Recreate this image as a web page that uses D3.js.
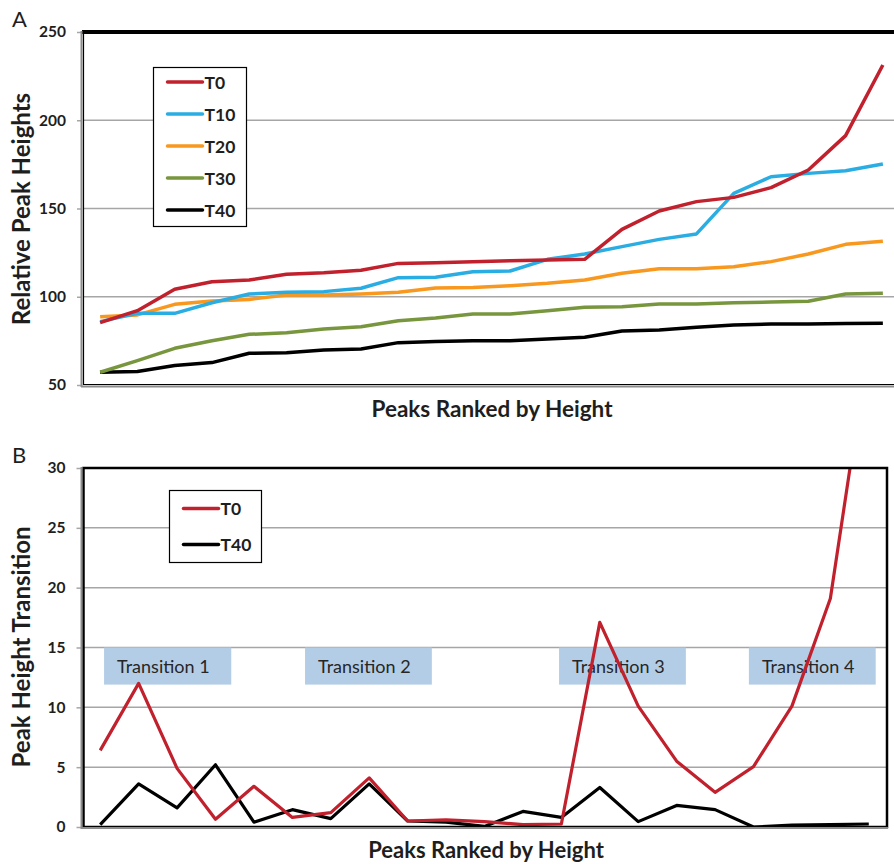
<!DOCTYPE html>
<html>
<head>
<meta charset="utf-8">
<script src="https://cdn.jsdelivr.net/npm/d3@7"></script>
<style>
  body { margin: 0; background: #fff; }
  svg { display: block; font-family: Lato, "Open Sans", sans-serif; }
</style>
</head>
<body>
<div id="chart"></div>
<script>
// panel A: relative peak heights, 22 peaks ranked by height
const ranksA = [1,2,3,4,5,6,7,8,9,10,11,12,13,14,15,16,17,18,19,20,21,22];
const t0 =  [85.3, 92.1, 104.2, 108.5, 109.5, 112.7, 113.6, 115.0, 118.9, 119.3, 119.9, 120.4, 120.8, 121.2, 138.2, 148.6, 153.9, 156.3, 161.8, 171.8, 191.3, 231.3];
const t10 = [85.9, 90.6, 90.6, 96.6, 101.6, 102.5, 102.9, 104.8, 110.8, 111.0, 114.2, 114.6, 121.2, 124.2, 128.4, 132.5, 135.6, 158.6, 168.0, 169.9, 171.4, 175.2];
const t20 = [88.7, 89.7, 95.7, 97.6, 98.5, 101.0, 101.0, 101.6, 102.5, 104.9, 105.3, 106.3, 107.6, 109.5, 113.3, 115.9, 115.9, 117.0, 119.9, 124.2, 129.7, 131.4];
const t30 = [57.2, 63.8, 70.8, 75.1, 78.7, 79.6, 81.7, 83.0, 86.4, 88.0, 90.2, 90.2, 92.1, 94.0, 94.3, 95.9, 95.9, 96.6, 97.0, 97.4, 101.6, 102.0];
const t40 = [57.2, 57.6, 61.0, 62.7, 68.0, 68.3, 69.8, 70.4, 74.0, 74.7, 75.1, 75.1, 76.1, 77.0, 80.6, 81.2, 82.7, 84.0, 84.6, 84.6, 84.8, 85.0];
const ticksA = [50, 100, 150, 200, 250];

// panel B: peak height transition, 21 steps
const ranksB = [1,2,3,4,5,6,7,8,9,10,11,12,13,14,15,16,17,18,19,20,21];
const trT0 =  [6.4, 12.0, 4.9, 0.65, 3.4, 0.8, 1.2, 4.1, 0.5, 0.6, 0.45, 0.2, 0.25, 17.1, 10.1, 5.5, 2.9, 5.05, 10.1, 19.1, 40.4];
const trT40 = [0.2, 3.6, 1.6, 5.2, 0.4, 1.45, 0.7, 3.6, 0.5, 0.4, 0.05, 1.3, 0.8, 3.3, 0.45, 1.8, 1.45, 0.0, 0.15, 0.2, 0.25];
const ticksB = [0, 5, 10, 15, 20, 25, 30];
const transitionLabels = ["Transition 1", "Transition 2", "Transition 3", "Transition 4"];

const seriesA = [
  { name: "T0",  values: t0,  color: "#c1202d" },
  { name: "T10", values: t10, color: "#2aade3" },
  { name: "T20", values: t20, color: "#f8981f" },
  { name: "T30", values: t30, color: "#78963d" },
  { name: "T40", values: t40, color: "#000000" }
];
const seriesB = [
  { name: "T0",  values: trT0,  color: "#c1202d" },
  { name: "T40", values: trT40, color: "#000000" }
];
// annotation boxes in rank / value units
const boxSpans = [[1.1, 4.41], [6.33, 9.63], [12.94, 16.24], [17.88, 21.18]];

const W = 894, H = 864;
const svg = d3.select("#chart").append("svg")
  .attr("width", W).attr("height", H);

const textColor = "#1e1e1e";
const gridColor = "#a6a6a6";

function panel(opts) {
  const { x0, x1, y0, y1, ranks, domain, ticks, frameRight, clipId } = opts;
  const g = svg.append("g");
  const x = d3.scalePoint().domain(ranks).range([x0, x1]).padding(0.5);
  const xc = d3.scaleLinear().domain([1, ranks.length]).range([x(1), x(ranks.length)]);
  const y = d3.scaleLinear().domain(domain).range([y1, y0]);

  // grid
  g.append("g").selectAll("line")
    .data(ticks.slice(1, -1))
    .join("line")
    .attr("x1", x0 + 2).attr("x2", frameRight ? frameRight : W)
    .attr("y1", d => y(d)).attr("y2", d => y(d))
    .attr("stroke", gridColor).attr("stroke-width", 1.5);

  // y axis
  const ax = g.append("g")
    .attr("transform", `translate(${x0 + 0.5},0)`)
    .call(d3.axisLeft(y).tickValues(ticks).tickSize(5).tickPadding(11));
  ax.select(".domain").remove();
  ax.selectAll(".tick line").attr("stroke", gridColor).attr("stroke-width", 1.5);
  ax.selectAll(".tick text")
    .attr("fill", textColor)
    .attr("font-family", "Lato, sans-serif")
    .attr("font-weight", 700)
    .attr("font-size", 15.5);

  g.append("clipPath").attr("id", clipId)
    .append("rect")
    .attr("x", x0).attr("y", y0)
    .attr("width", (frameRight ? frameRight : W) - x0).attr("height", y1 - y0);

  return { g, x, xc, y };
}

// ---------- panel A ----------
const A = panel({
  x0: 81.5, x1: 901.5, y0: 32, y1: 385,
  ranks: ranksA, domain: [50, 250], ticks: ticksA,
  frameRight: null, clipId: "clipA"
});

const lineA = d3.line()
  .x((d, i) => A.x(ranksA[i]))
  .y(d => A.y(d));

A.g.append("g").selectAll("path")
  .data(seriesA.slice().reverse())
  .join("path")
  .attr("d", d => lineA(d.values))
  .attr("fill", "none")
  .attr("stroke", d => d.color)
  .attr("stroke-width", 3.5)
  .attr("stroke-linejoin", "round");

// frame A: thick top, gray axes left/bottom
A.g.append("line").attr("x1", 82).attr("x2", W).attr("y1", A.y(250)).attr("y2", A.y(250))
  .attr("stroke", "#000").attr("stroke-width", 4);
A.g.append("line").attr("x1", 81.5).attr("x2", 81.5).attr("y1", A.y(250) - 1).attr("y2", A.y(50) + 2)
  .attr("stroke", "#8c8c8c").attr("stroke-width", 2);
A.g.append("line").attr("x1", 83.5).attr("x2", 83.5).attr("y1", A.y(250)).attr("y2", A.y(50))
  .attr("stroke", "#000").attr("stroke-width", 1.2);
A.g.append("line").attr("x1", 81).attr("x2", W).attr("y1", A.y(50) + 1.5).attr("y2", A.y(50) + 1.5)
  .attr("stroke", "#8c8c8c").attr("stroke-width", 2);
A.g.append("line").attr("x1", 83).attr("x2", W).attr("y1", A.y(50) - 0.5).attr("y2", A.y(50) - 0.5)
  .attr("stroke", "#000").attr("stroke-width", 1.2);

// legend A
const legA = svg.append("g").attr("transform", "translate(153.5,67.5)");
legA.append("rect").attr("width", 93).attr("height", 159)
  .attr("fill", "#fff").attr("stroke", "#000").attr("stroke-width", 1.2);
const legAItems = legA.selectAll("g.item")
  .data(seriesA)
  .join("g")
  .attr("transform", (d, i) => `translate(0,${14.5 + i * 32})`);
legAItems.append("line")
  .attr("x1", 14).attr("x2", 49)
  .attr("stroke", d => d.color).attr("stroke-width", 3.5).attr("stroke-linecap", "round");
legAItems.append("text")
  .attr("x", 51).attr("y", 6.5)
  .attr("fill", textColor).attr("font-weight", 700).attr("font-size", 17.5)
  .text(d => d.name);

// titles A
svg.append("text").attr("x", 12).attr("y", 27)
  .attr("fill", textColor).attr("font-size", 22).text("A");
svg.append("text")
  .attr("transform", "translate(30,209) rotate(-90)")
  .attr("text-anchor", "middle")
  .attr("fill", textColor).attr("font-weight", 700).attr("font-size", 24)
  .text("Relative Peak Heights");
svg.append("text").attr("x", 492).attr("y", 417)
  .attr("text-anchor", "middle")
  .attr("fill", textColor).attr("font-weight", 700).attr("font-size", 22.5)
  .text("Peaks Ranked by Height");

// ---------- panel B ----------
const B = panel({
  x0: 81, x1: 888, y0: 468, y1: 827,
  ranks: ranksB, domain: [0, 30], ticks: ticksB,
  frameRight: 887, clipId: "clipB"
});

// transition boxes
const boxes = B.g.append("g").selectAll("g")
  .data(transitionLabels)
  .join("g");
boxes.append("rect")
  .attr("x", (d, i) => B.xc(boxSpans[i][0]))
  .attr("y", B.y(15))
  .attr("width", (d, i) => B.xc(boxSpans[i][1]) - B.xc(boxSpans[i][0]))
  .attr("height", B.y(11.9) - B.y(15))
  .attr("fill", "#b4cde7");
boxes.append("text")
  .attr("x", (d, i) => B.xc(boxSpans[i][0]) + 13)
  .attr("y", B.y(13.45) + 6.5)
  .attr("fill", "#262626").attr("font-size", 18)
  .text(d => d);

const lineB = d3.line()
  .x((d, i) => B.x(ranksB[i]))
  .y(d => B.y(d));

B.g.append("g").attr("clip-path", "url(#clipB)")
  .selectAll("path")
  .data(seriesB.slice().reverse())
  .join("path")
  .attr("d", d => lineB(d.values))
  .attr("fill", "none")
  .attr("stroke", d => d.color)
  .attr("stroke-width", 3.2)
  .attr("stroke-linejoin", "round");

// frame B
B.g.append("rect")
  .attr("x", 83.5).attr("y", B.y(30))
  .attr("width", 887 - 83.5).attr("height", B.y(0) - B.y(30))
  .attr("fill", "none").attr("stroke", "#000").attr("stroke-width", 2.5);
B.g.append("line").attr("x1", 81.5).attr("x2", 81.5).attr("y1", B.y(30) - 1).attr("y2", B.y(0) + 2)
  .attr("stroke", "#8c8c8c").attr("stroke-width", 2);
B.g.append("line").attr("x1", 81).attr("x2", 888).attr("y1", B.y(0) + 1).attr("y2", B.y(0) + 1)
  .attr("stroke", "#8c8c8c").attr("stroke-width", 2);

// legend B
const legB = svg.append("g").attr("transform", "translate(169.5,490.5)");
legB.append("rect").attr("width", 92).attr("height", 72)
  .attr("fill", "#fff").attr("stroke", "#000").attr("stroke-width", 1.2);
const legBItems = legB.selectAll("g.item")
  .data(seriesB)
  .join("g")
  .attr("transform", (d, i) => `translate(0,${18 + i * 36})`);
legBItems.append("line")
  .attr("x1", 14).attr("x2", 49)
  .attr("stroke", d => d.color).attr("stroke-width", 3.5).attr("stroke-linecap", "round");
legBItems.append("text")
  .attr("x", 51).attr("y", 6.5)
  .attr("fill", textColor).attr("font-weight", 700).attr("font-size", 17.5)
  .text(d => d.name);

// titles B
svg.append("text").attr("x", 12).attr("y", 463)
  .attr("fill", textColor).attr("font-size", 22).text("B");
svg.append("text")
  .attr("transform", "translate(30,647) rotate(-90)")
  .attr("text-anchor", "middle")
  .attr("fill", textColor).attr("font-weight", 700).attr("font-size", 24)
  .text("Peak Height Transition");
svg.append("text").attr("x", 486).attr("y", 858)
  .attr("text-anchor", "middle")
  .attr("fill", textColor).attr("font-weight", 700).attr("font-size", 22)
  .text("Peaks Ranked by Height");
</script>
</body>
</html>
